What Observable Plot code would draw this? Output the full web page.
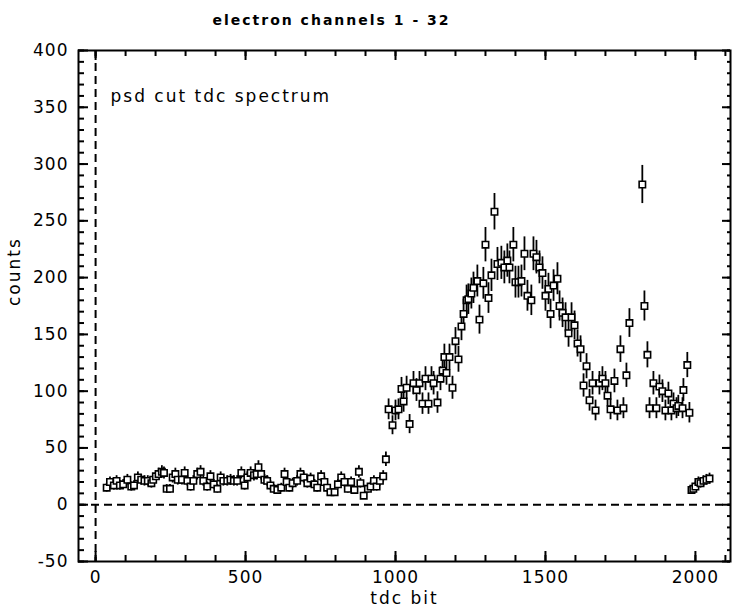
<!DOCTYPE html>
<html><head><meta charset="utf-8">
<script src="https://cdn.jsdelivr.net/npm/d3@7"></script>
<script src="https://cdn.jsdelivr.net/npm/@observablehq/plot@0.6"></script>
<style>body{margin:0;background:#fff}</style>
</head><body><div id="chart"></div>
<script>
const tdcBit = [37,48,61,70,81,92,106,119,128,141,152,163,174,186,192,201,210,221,228,237,248,257,266,274,288,297,306,317,326,339,350,359,372,383,394,406,417,426,439,450,461,472,486,497,506,517,528,537,543,552,563,572,583,594,606,619,630,637,646,657,672,683,694,706,717,730,739,752,763,772,783,797,808,819,830,841,852,863,878,883,894,908,917,928,937,948,959,968,977,990,1000,1010,1020,1027,1037,1047,1060,1070,1080,1090,1100,1110,1120,1127,1140,1150,1157,1163,1170,1180,1190,1200,1210,1220,1227,1237,1243,1253,1260,1273,1280,1293,1300,1310,1320,1330,1340,1353,1363,1373,1380,1393,1400,1410,1420,1430,1440,1453,1460,1470,1480,1490,1500,1510,1517,1527,1540,1547,1557,1567,1577,1587,1597,1607,1617,1627,1637,1647,1657,1667,1680,1690,1700,1707,1717,1730,1740,1750,1760,1770,1780,1823,1830,1840,1847,1860,1870,1880,1890,1900,1910,1920,1927,1937,1943,1957,1960,1973,1980,1987,1993,2000,2010,2017,2027,2037,2047];
const counts = [15,20,17,21,17,18,22,16,17,24,22,21,21,19,22,25,27,29,28,14,14,24,27,22,22,28,21,16,21,27,29,21,16,25,18,14,24,21,21,22,21,21,28,17,24,28,26,27,33,27,22,21,17,14,13,15,27,20,15,19,21,27,24,19,23,18,15,25,20,15,11,11,18,24,20,14,20,13,29,19,8,14,16,21,16,21,25,40,84,70,83,84,102,91,103,71,107,101,107,89,111,89,111,107,90,111,118,130,116,130,103,144,128,157,168,180,181,186,191,197,163,195,229,182,202,258,212,213,209,215,209,229,196,196,197,221,184,180,221,218,209,204,184,190,168,193,199,175,169,165,151,165,158,142,137,105,122,92,107,83,107,111,107,96,84,109,83,137,85,114,160,282,175,132,85,107,85,104,100,83,98,83,89,85,87,85,101,123,81,13,14,16,20,19,21,22,23];
const yMajorTicks = [-50,0,50,100,150,200,250,300,350,400];
const yMinorTicks = [-50,-40,-30,-20,-10,0,10,20,30,40,50,60,70,80,90,100,110,120,130,140,150,160,170,180,190,200,210,220,230,240,250,260,270,280,290,300,310,320,330,340,350,360,370,380,390,400];
const xMajorTicks = [0,500,1000,1500,2000];
const xMinorTicks = [0,100,200,300,400,500,600,700,800,900,1000,1100,1200,1300,1400,1500,1600,1700,1800,1900,2000,2100];
const titleText = "electron channels 1 - 32";
const noteText = "psd cut tdc spectrum";
const xLabel = "tdc bit";
const yLabel = "counts";

const data = tdcBit.map((x, i) => ({x, y: counts[i]}));
const W = 734, H = 607, mL = 78, mR = 4, mT = 50, mB = 46;
const fw = W - mL - mR, fh = H - mT - mB;
const xDom = [-57, 2117], yDom = [-50, 400];
const kx = (xDom[1] - xDom[0]) / fw;
const ky = (yDom[1] - yDom[0]) / fh;

const leftTicks = (ticks, len) => Plot.ruleY(ticks, {y: d => d, x1: xDom[0], x2: xDom[0] + len * kx, stroke: "black", strokeWidth: 2});
const rightTicks = (ticks, len) => Plot.ruleY(ticks, {y: d => d, x1: xDom[1] - len * kx, x2: xDom[1], stroke: "black", strokeWidth: 2});
const topTicks = (ticks, len) => Plot.ruleX(ticks, {x: d => d, y1: yDom[1], y2: yDom[1] - len * ky, stroke: "black", strokeWidth: 2});
const bottomTicks = (ticks, len) => Plot.ruleX(ticks, {x: d => d, y1: yDom[0], y2: yDom[0] + len * ky, stroke: "black", strokeWidth: 2});

const chart = Plot.plot({
  width: W, height: H,
  marginLeft: mL, marginRight: mR, marginTop: mT, marginBottom: mB,
  style: {fontFamily: "DejaVu Sans", background: "white", color: "black", overflow: "visible"},
  x: {domain: xDom},
  y: {domain: yDom},
  marks: [
    Plot.ruleX([0], {strokeDasharray: "8,5", strokeWidth: 2}),
    Plot.ruleY([0], {strokeDasharray: "8,5", strokeWidth: 2}),
    Plot.frame({strokeWidth: 2}),
    leftTicks(yMinorTicks, 6), leftTicks(yMajorTicks, 10),
    rightTicks(yMinorTicks, 3), rightTicks(yMajorTicks, 8),
    topTicks(xMinorTicks, 6), topTicks(xMajorTicks, 10),
    bottomTicks(xMinorTicks, 6), bottomTicks(xMajorTicks, 10),
    Plot.axisY(yMajorTicks, {tickSize: 0, tickPadding: 10, fontSize: 17, label: null, tickFormat: d => String(d)}),
    Plot.axisX(xMajorTicks, {tickSize: 0, tickPadding: 9, fontSize: 17, label: null, tickFormat: d => String(d)}),
    Plot.ruleX(data, {x: "x", y1: d => d.y - Math.sqrt(d.y), y2: d => d.y + Math.sqrt(d.y), strokeWidth: 1.8}),
    Plot.dot(data, {x: "x", y: "y", symbol: "square", r: 3.6, fill: "white", stroke: "black", strokeWidth: 1.6}),
    Plot.text([titleText], {text: d => d, frameAnchor: "top", dx: -73, dy: -30, fontSize: 14, fontWeight: "bold", lineAnchor: "middle"}),
    Plot.text([noteText], {text: d => d, frameAnchor: "top-left", textAnchor: "start", dx: 32, dy: 46, fontSize: 17, lineAnchor: "middle"}),
    Plot.text([xLabel], {text: d => d, frameAnchor: "bottom", dy: 37, fontSize: 17, lineAnchor: "middle"}),
    Plot.text([yLabel], {text: d => d, frameAnchor: "left", dx: -64, rotate: -90, fontSize: 17, lineAnchor: "middle"})
  ]
});
d3.select(chart).selectAll("text").style("letter-spacing", "2px");
d3.select(chart).selectAll("[aria-label='y-axis tick label'] text, [aria-label='x-axis tick label'] text").style("letter-spacing", "1px");
document.getElementById("chart").appendChild(chart);
</script>
</body></html>
